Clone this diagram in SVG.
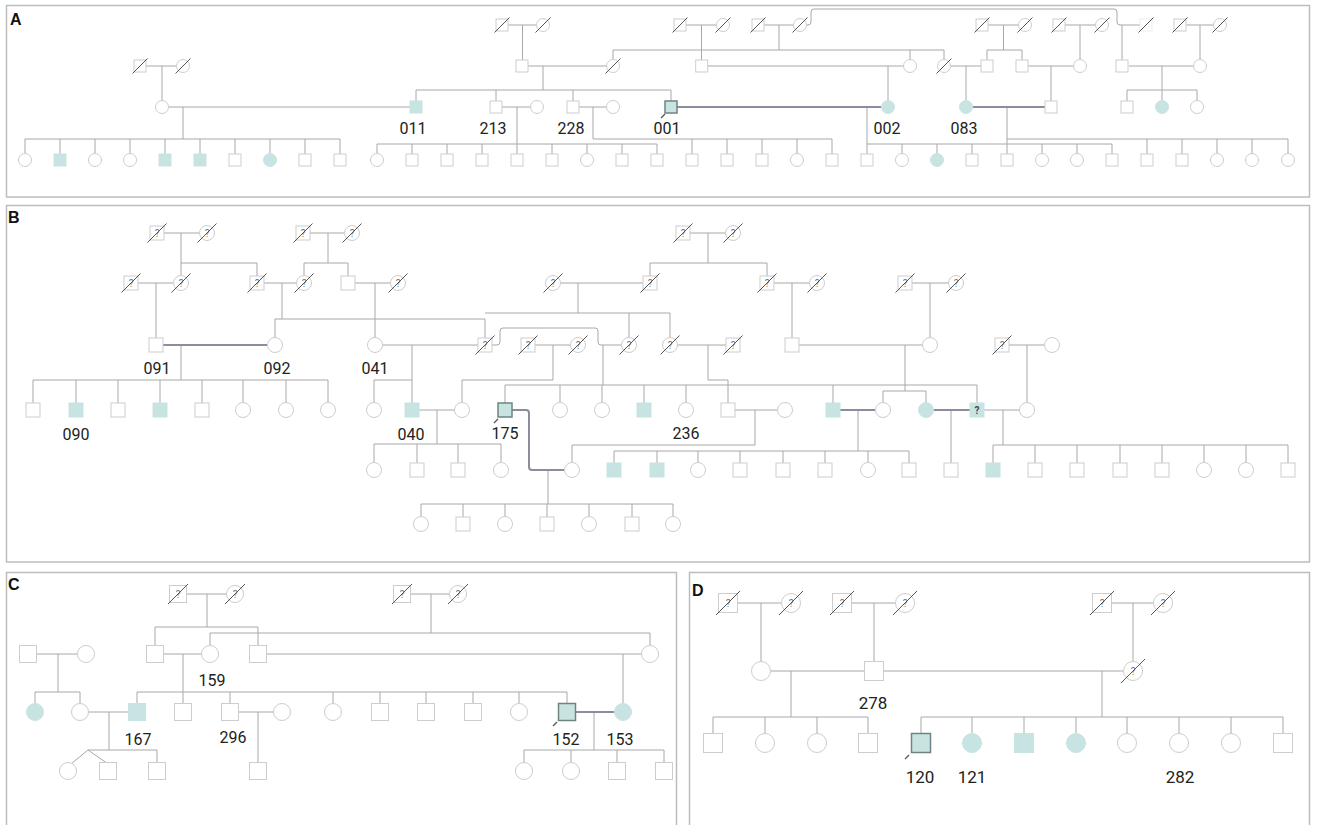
<svg xmlns="http://www.w3.org/2000/svg" xmlns:xlink="http://www.w3.org/1999/xlink" width="1317" height="825" viewBox="0 0 1317 825">
<style>
.u{fill:#fff;stroke:#cdcdcd;stroke-width:1}
.a{fill:#c8e4e2;stroke:#c8e4e2;stroke-width:1}
.p{fill:#c8e4e2;stroke:#6f8482;stroke-width:1.5}
.x{stroke:#555;stroke-width:1;fill:none}
.q{font-family:Roboto,"Liberation Sans",sans-serif;font-size:10px;fill:#777;stroke:none;text-anchor:middle}
.t{font-family:Roboto,"Liberation Sans",sans-serif;font-size:16px;fill:#222;text-anchor:middle}
.L{font-family:"Liberation Sans",Arial,sans-serif;font-weight:bold;font-size:16px;fill:#111}
.ln{stroke:#a8a8a8;stroke-width:1;fill:none}
.th{stroke:#8c8c9e;stroke-width:2;fill:none}
.fr{fill:none;stroke:#bdbdbd;stroke-width:1.5}
.ar{stroke:#555;stroke-width:1.2}
</style>
<defs>
<rect id="sA" x="-6" y="-6" width="12" height="12"/>
<circle id="cA" r="6.5"/>
<line id="xA" x1="-7.5" y1="7.5" x2="7.5" y2="-7.5"/>
<rect id="sB" x="-7" y="-7" width="14" height="14"/>
<circle id="cB" r="7.5"/>
<line id="xB" x1="-9.5" y1="9.5" x2="9.5" y2="-9.5"/>
<rect id="sC" x="-8.5" y="-8.5" width="17" height="17"/>
<circle id="cC" r="8.5"/>
<line id="xC" x1="-10" y1="10" x2="10" y2="-10"/>
<rect id="sD" x="-9.5" y="-9.5" width="19" height="19"/>
<circle id="cD" r="9.5"/>
<line id="xD" x1="-12" y1="12" x2="12" y2="-12"/>
</defs>
<rect width="1317" height="825" fill="#fff"/>
<g id="frames" class="fr">
<rect x="6.5" y="5.5" width="1303" height="191.5"/>
<rect x="6.5" y="205.5" width="1303" height="356.5"/>
<path d="M6.5,830V572.5H676.5V830"/>
<path d="M689.5,830V572.5H1309.5V830"/>
</g>
<g id="panel-letters">
<text class="L" x="10" y="25">A</text>
<text class="L" x="8" y="223">B</text>
<text class="L" x="8" y="590">C</text>
<text class="L" x="692" y="596">D</text>
</g>
<g id="connectors">
<g class="ln">
<path d="M508,25H537M522.5,25V60M686,25H716.5M701.5,25V60M764,25H793.5M779,25V50M988,25H1018.5M1003.5,25V50M987,50H1022M987,50V60M1022,50V60M1065,25H1095.5M1080,25V59.5M1186,25H1213.5M1200,25V59.5"/>
<path d="M806.5,25H808Q811,25 811,22V12Q811,9 814,9H1114Q1117,9 1117,12V22Q1117,25 1120,25H1140M1122,25V60"/>
<path d="M613,50H944M613,50V59.5M910,50V59.5M944,50V59.5"/>
<path d="M146,66H176.5M162,66V100.5M528,66H606.5M543,66V90M416,90H671M416,90V101M496,90V101M573,90V101M671,90V101"/>
<path d="M707.7,66H903.5M888,66V100.5M950.5,66H981M966,66V100.5M1028,66H1073.5M1051,66V101M1129,66H1193.5M1162,66V90M1127,90H1197M1127,90V101M1162,90V100.5M1197,90V100.5"/>
<path d="M168.5,107H410M183,107V139M25,139H340M25,139V154M60,139V154M95,139V154M130,139V154M165,139V154M200,139V154M235,139V154M270,139V154M305,139V154M340,139V154"/>
<path d="M502,107H530.5M517,107V154M377,144H657M377,144V154M412,144V154M447,144V154M482,144V154M552,144V154M587,144V154M622,144V154M657,144V154"/>
<path d="M579,107H606.5M593,107V139M593,139H832M692,139V154M727,139V154M762,139V154M797,139V154M832,139V154"/>
<path d="M867,107V144M867,144H1112M902,144V154M937,144V154M972,144V154M1007,144V154M1042,144V154M1077,144V154M1112,144V154M867,144V154"/>
<path d="M1007,107V144M1007,139H1288M1147,139V154M1182,139V154M1217,139V154M1252,139V154M1288,139V154"/>
<path d="M164,233H199.5M181,233V275.5M181,263H257M257,263V276M310,233H344M328,233V263M304,263H348M304,263V275.5M348,263V276M690,233H725.5M708,233V263M650,263H767M650,263V276M767,263V276"/>
<path d="M138,283H173.5M156,283V338M264,283H296.5M282,283V319M275,319H485M275,319V337.5M485,319V338M355,283H390.5M375,283V337.5"/>
<path d="M560.5,283H643M578,283V313M485,313H670M629,313V337.5M670,313V337.5M774,283H809.5M792,283V338M912,283H948.5M930,283V337.5"/>
<path d="M181,345V380M33,380H328M33,380V403M76,380V403M118,380V403M160,380V403M202,380V403M243,380V403M286,380V403M328,380V403"/>
<path d="M382.5,345H478M412,345V403M374,380H412M374,380V402.5"/>
<path d="M492,345H497Q500,345 500,342V331Q500,328 503,328H595Q598,328 598,331V342Q598,345 601,345H621.5M603,345V385"/>
<path d="M535,345H570.5M553,345V380M462,380H553M462,380V402.5M677.5,345H726M708,345V380H728V403"/>
<path d="M799,345H922.5M905,345V391M883,391H926M883,391V402.5M926,391V402.5M1009,345H1044.5M1027,345V402.5"/>
<path d="M505,385H977M505,385V403M560,385V402.5M602,385V402.5M644,385V403M686,385V402.5M833,385V403M977,385V403"/>
<path d="M419,410H454.5M437,410V444M374,444H501M374,444V462.5M417,444V463M458,444V463M501,444V462.5"/>
<path d="M735,410H777.5M755,410V445H572V462.5M858,410V451M614,451H909M614,451V463M657,451V463M698,451V462.5M740,451V463M783,451V463M825,451V463M868,451V462.5M909,451V463M951,410V463"/>
<path d="M984,410H1019.5M1003,410V445M993,445H1288M993,445V463M1035,445V463M1077,445V463M1120,445V463M1162,445V463M1204,445V462.5M1246,445V462.5M1288,445V463"/>
<path d="M548,470V504M421,504H673M421,504V516.5M463,504V517M505,504V516.5M547,504V517M589,504V516.5M632,504V517M673,504V516.5"/>
<path d="M186.5,594H226.5M207,594V627M155,627H258M155,627V645.5M258,627V645.5M410.5,594H449.5M431,594V633M210,633H650M210,633V645.5M650,633V645.5"/>
<path d="M36.5,654H77.5M58,654V692M35,692H80M35,692V703.5M80,692V703.5M163.5,654H201.5M183,654V703.5M137,692H567M137,692V703.5M230,692V703.5M333,692V703.5M380,692V703.5M426,692V703.5M473,692V703.5M519,692V703.5M567,692V703.5M266.5,654H641.5M623,654V703.5"/>
<path d="M88.5,712H128.5M109,712V750M88,750H157M88,750L71,764M88,750L106,762.5M157,750V762.5M238.5,712H273.5M258,712V762.5M594,712V750M524,750H664M524,750V762.5M571,750V762.5M617,750V762.5M664,750V762.5"/>
<path d="M737.5,603H781.5M761,603V661.5M851.5,603H895.5M874,603V661.5M1111,603H1153.5M1133,603V661.5"/>
<path d="M770.5,671H864.5M791,671V717M713,717H868M713,717V733.5M765,717V733.5M817,717V733.5M868,717V733.5"/>
<path d="M883.5,671H1123.5M1102,671V717M921,717H1283M921,717V733.5M972,717V733.5M1024,717V733.5M1076,717V733.5M1127,717V733.5M1179,717V733.5M1231,717V733.5M1283,717V733.5"/>
</g>
<g class="th">
<path d="M677,107H881.5M972.5,107H1045"/>
<path d="M163,345H267.5M512,410H526Q529,410 529,413V467Q529,470 532,470H564.5M840,410H875.5M933.5,410H970"/>
<path d="M575.5,712H614.5"/>
</g>
<g id="proband-arrows" class="ar">
<line x1="661" y1="118" x2="665" y2="114"/>
<line x1="494" y1="423" x2="498" y2="419"/>
<line x1="553" y1="726" x2="557" y2="722"/>
<line x1="905" y1="759" x2="909" y2="755"/>
</g>
</g>
<g id="panelA-nodes">
<g id="A-d1" class="u"><use href="#sA" x="502" y="25"/><use href="#xA" class="x" x="502" y="25"/></g>
<g id="A-d2" class="u"><use href="#cA" x="543" y="25"/><use href="#xA" class="x" x="543" y="25"/></g>
<g id="A-d3" class="u"><use href="#sA" x="680" y="25"/><use href="#xA" class="x" x="680" y="25"/></g>
<g id="A-d4" class="u"><use href="#cA" x="723" y="25"/><use href="#xA" class="x" x="723" y="25"/></g>
<g id="A-d5" class="u"><use href="#sA" x="758" y="25"/><use href="#xA" class="x" x="758" y="25"/></g>
<g id="A-d6" class="u"><use href="#cA" x="800" y="25"/><use href="#xA" class="x" x="800" y="25"/></g>
<g id="A-d7" class="u"><use href="#sA" x="982" y="25"/><use href="#xA" class="x" x="982" y="25"/></g>
<g id="A-d8" class="u"><use href="#cA" x="1025" y="25"/><use href="#xA" class="x" x="1025" y="25"/></g>
<g id="A-d9" class="u"><use href="#sA" x="1059" y="25"/><use href="#xA" class="x" x="1059" y="25"/></g>
<g id="A-d10" class="u"><use href="#cA" x="1102" y="25"/><use href="#xA" class="x" x="1102" y="25"/></g>
<g id="A-d11" class="u" style="stroke:#eeeeee"><use href="#sA" x="1146" y="25"/><use href="#xA" class="x" x="1146" y="25"/></g>
<g id="A-d12" class="u"><use href="#sA" x="1180" y="25"/><use href="#xA" class="x" x="1180" y="25"/></g>
<g id="A-d13" class="u"><use href="#cA" x="1220" y="25"/><use href="#xA" class="x" x="1220" y="25"/></g>
<g id="A-r1a" class="u"><use href="#sA" x="140" y="66"/><use href="#xA" class="x" x="140" y="66"/></g>
<g id="A-r1b" class="u"><use href="#cA" x="183" y="66"/><use href="#xA" class="x" x="183" y="66"/></g>
<g id="A-r1c" class="u"><use href="#sA" x="522" y="66"/></g>
<g id="A-r1d" class="u"><use href="#cA" x="613" y="66"/><use href="#xA" class="x" x="613" y="66"/></g>
<g id="A-r1e" class="u"><use href="#sA" x="701.7" y="66"/></g>
<g id="A-r1f" class="u"><use href="#cA" x="910" y="66"/></g>
<g id="A-r1g" class="u"><use href="#cA" x="944" y="66"/><use href="#xA" class="x" x="944" y="66"/></g>
<g id="A-r1h" class="u"><use href="#sA" x="987" y="66"/></g>
<g id="A-r1i" class="u"><use href="#sA" x="1022" y="66"/></g>
<g id="A-r1j" class="u"><use href="#cA" x="1080" y="66"/></g>
<g id="A-r1k" class="u"><use href="#sA" x="1122" y="66"/></g>
<g id="A-r1l" class="u"><use href="#cA" x="1200" y="66"/></g>
<g id="A-r2a" class="u"><use href="#cA" x="162" y="107"/></g>
<g id="A-011" class="a"><use href="#sA" x="416" y="107"/><text class="t" x="413" y="134" style="stroke:none">011</text></g>
<g id="A-213" class="u"><use href="#sA" x="496" y="107"/><text class="t" x="493" y="134" style="stroke:none">213</text></g>
<g id="A-r2b" class="u"><use href="#cA" x="537" y="107"/></g>
<g id="A-228" class="u"><use href="#sA" x="573" y="107"/><text class="t" x="571" y="134" style="stroke:none">228</text></g>
<g id="A-r2c" class="u"><use href="#cA" x="613" y="107"/></g>
<g id="A-001" class="p"><use href="#sA" x="671" y="107"/><text class="t" x="667" y="134" style="stroke:none">001</text></g>
<g id="A-002" class="a"><use href="#cA" x="888" y="107"/><text class="t" x="887" y="134" style="stroke:none">002</text></g>
<g id="A-083" class="a"><use href="#cA" x="966" y="107"/><text class="t" x="964" y="134" style="stroke:none">083</text></g>
<g id="A-r2d" class="u"><use href="#sA" x="1051" y="107"/></g>
<g id="A-r2e" class="u"><use href="#sA" x="1127" y="107"/></g>
<g id="A-r2f" class="a"><use href="#cA" x="1162" y="107"/></g>
<g id="A-r2g" class="u"><use href="#cA" x="1197" y="107"/></g>
<g id="A-r3-1" class="u"><use href="#cA" x="25" y="160"/></g>
<g id="A-r3-2" class="a"><use href="#sA" x="60" y="160"/></g>
<g id="A-r3-3" class="u"><use href="#cA" x="95" y="160"/></g>
<g id="A-r3-4" class="u"><use href="#cA" x="130" y="160"/></g>
<g id="A-r3-5" class="a"><use href="#sA" x="165" y="160"/></g>
<g id="A-r3-6" class="a"><use href="#sA" x="200" y="160"/></g>
<g id="A-r3-7" class="u"><use href="#sA" x="235" y="160"/></g>
<g id="A-r3-8" class="a"><use href="#cA" x="270" y="160"/></g>
<g id="A-r3-9" class="u"><use href="#sA" x="305" y="160"/></g>
<g id="A-r3-10" class="u"><use href="#sA" x="340" y="160"/></g>
<g id="A-r3-11" class="u"><use href="#cA" x="377" y="160"/></g>
<g id="A-r3-12" class="u"><use href="#sA" x="412" y="160"/></g>
<g id="A-r3-13" class="u"><use href="#sA" x="447" y="160"/></g>
<g id="A-r3-14" class="u"><use href="#sA" x="482" y="160"/></g>
<g id="A-r3-15" class="u"><use href="#sA" x="517" y="160"/></g>
<g id="A-r3-16" class="u"><use href="#sA" x="552" y="160"/></g>
<g id="A-r3-17" class="u"><use href="#cA" x="587" y="160"/></g>
<g id="A-r3-18" class="u"><use href="#sA" x="622" y="160"/></g>
<g id="A-r3-19" class="u"><use href="#sA" x="657" y="160"/></g>
<g id="A-r3-20" class="u"><use href="#sA" x="692" y="160"/></g>
<g id="A-r3-21" class="u"><use href="#sA" x="727" y="160"/></g>
<g id="A-r3-22" class="u"><use href="#sA" x="762" y="160"/></g>
<g id="A-r3-23" class="u"><use href="#cA" x="797" y="160"/></g>
<g id="A-r3-24" class="u"><use href="#sA" x="832" y="160"/></g>
<g id="A-r3-25" class="u"><use href="#sA" x="867" y="160"/></g>
<g id="A-r3-26" class="u"><use href="#cA" x="902" y="160"/></g>
<g id="A-r3-27" class="a"><use href="#cA" x="937" y="160"/></g>
<g id="A-r3-28" class="u"><use href="#sA" x="972" y="160"/></g>
<g id="A-r3-29" class="u"><use href="#sA" x="1007" y="160"/></g>
<g id="A-r3-30" class="u"><use href="#cA" x="1042" y="160"/></g>
<g id="A-r3-31" class="u"><use href="#cA" x="1077" y="160"/></g>
<g id="A-r3-32" class="u"><use href="#sA" x="1112" y="160"/></g>
<g id="A-r3-33" class="u"><use href="#sA" x="1147" y="160"/></g>
<g id="A-r3-34" class="u"><use href="#sA" x="1182" y="160"/></g>
<g id="A-r3-35" class="u"><use href="#cA" x="1217" y="160"/></g>
<g id="A-r3-36" class="u"><use href="#cA" x="1252" y="160"/></g>
<g id="A-r3-37" class="u"><use href="#cA" x="1288" y="160"/></g>
</g>
<g id="panelB-nodes">
<g id="B-d1" class="u"><use href="#sB" x="157" y="233"/><text class="q" x="157" y="236.5">?</text><use href="#xB" class="x" x="157" y="233"/></g>
<g id="B-d2" class="u"><use href="#cB" x="207" y="233"/><text class="q" x="207" y="236.5">?</text><use href="#xB" class="x" x="207" y="233"/></g>
<g id="B-d3" class="u"><use href="#sB" x="303" y="233"/><text class="q" x="303" y="236.5">?</text><use href="#xB" class="x" x="303" y="233"/></g>
<g id="B-d4" class="u"><use href="#cB" x="352" y="233"/><text class="q" x="352" y="236.5">?</text><use href="#xB" class="x" x="352" y="233"/></g>
<g id="B-d5" class="u"><use href="#sB" x="683" y="233"/><text class="q" x="683" y="236.5">?</text><use href="#xB" class="x" x="683" y="233"/></g>
<g id="B-d6" class="u"><use href="#cB" x="733" y="233"/><text class="q" x="733" y="236.5">?</text><use href="#xB" class="x" x="733" y="233"/></g>
<g id="B-d7" class="u"><use href="#sB" x="131" y="283"/><text class="q" x="131" y="286.5">?</text><use href="#xB" class="x" x="131" y="283"/></g>
<g id="B-d8" class="u"><use href="#cB" x="181" y="283"/><text class="q" x="181" y="286.5">?</text><use href="#xB" class="x" x="181" y="283"/></g>
<g id="B-d9" class="u"><use href="#sB" x="257" y="283"/><text class="q" x="257" y="286.5">?</text><use href="#xB" class="x" x="257" y="283"/></g>
<g id="B-d10" class="u"><use href="#cB" x="304" y="283"/><text class="q" x="304" y="286.5">?</text><use href="#xB" class="x" x="304" y="283"/></g>
<g id="B-r1a" class="u"><use href="#sB" x="348" y="283"/></g>
<g id="B-d11" class="u"><use href="#cB" x="398" y="283"/><text class="q" x="398" y="286.5">?</text><use href="#xB" class="x" x="398" y="283"/></g>
<g id="B-d12" class="u"><use href="#cB" x="553" y="283"/><text class="q" x="553" y="286.5">?</text><use href="#xB" class="x" x="553" y="283"/></g>
<g id="B-d13" class="u"><use href="#sB" x="650" y="283"/><text class="q" x="650" y="286.5">?</text><use href="#xB" class="x" x="650" y="283"/></g>
<g id="B-d14" class="u"><use href="#sB" x="767" y="283"/><text class="q" x="767" y="286.5">?</text><use href="#xB" class="x" x="767" y="283"/></g>
<g id="B-d15" class="u"><use href="#cB" x="817" y="283"/><text class="q" x="817" y="286.5">?</text><use href="#xB" class="x" x="817" y="283"/></g>
<g id="B-d16" class="u"><use href="#sB" x="905" y="283"/><text class="q" x="905" y="286.5">?</text><use href="#xB" class="x" x="905" y="283"/></g>
<g id="B-d17" class="u"><use href="#cB" x="956" y="283"/><text class="q" x="956" y="286.5">?</text><use href="#xB" class="x" x="956" y="283"/></g>
<g id="B-091" class="u"><use href="#sB" x="156" y="345"/><text class="t" x="157" y="374" style="stroke:none">091</text></g>
<g id="B-092" class="u"><use href="#cB" x="275" y="345"/><text class="t" x="277" y="374" style="stroke:none">092</text></g>
<g id="B-041" class="u"><use href="#cB" x="375" y="345"/><text class="t" x="375" y="374" style="stroke:none">041</text></g>
<g id="B-d18" class="u"><use href="#sB" x="485" y="345"/><text class="q" x="485" y="348.5">?</text><use href="#xB" class="x" x="485" y="345"/></g>
<g id="B-d19" class="u"><use href="#sB" x="528" y="345"/><text class="q" x="528" y="348.5">?</text><use href="#xB" class="x" x="528" y="345"/></g>
<g id="B-d20" class="u"><use href="#cB" x="578" y="345"/><text class="q" x="578" y="348.5">?</text><use href="#xB" class="x" x="578" y="345"/></g>
<g id="B-d21" class="u"><use href="#cB" x="629" y="345"/><text class="q" x="629" y="348.5">?</text><use href="#xB" class="x" x="629" y="345"/></g>
<g id="B-d22" class="u"><use href="#cB" x="670" y="345"/><text class="q" x="670" y="348.5">?</text><use href="#xB" class="x" x="670" y="345"/></g>
<g id="B-d23" class="u"><use href="#sB" x="733" y="345"/><text class="q" x="733" y="348.5">?</text><use href="#xB" class="x" x="733" y="345"/></g>
<g id="B-r2a" class="u"><use href="#sB" x="792" y="345"/></g>
<g id="B-r2b" class="u"><use href="#cB" x="930" y="345"/></g>
<g id="B-d24" class="u"><use href="#sB" x="1002" y="345"/><text class="q" x="1002" y="348.5">?</text><use href="#xB" class="x" x="1002" y="345"/></g>
<g id="B-r2c" class="u"><use href="#cB" x="1052" y="345"/></g>
<g id="B-r3-1" class="u"><use href="#sB" x="33" y="410"/></g>
<g id="B-090" class="a"><use href="#sB" x="76" y="410"/><text class="t" x="76" y="440" style="stroke:none">090</text></g>
<g id="B-r3-3" class="u"><use href="#sB" x="118" y="410"/></g>
<g id="B-r3-4" class="a"><use href="#sB" x="160" y="410"/></g>
<g id="B-r3-5" class="u"><use href="#sB" x="202" y="410"/></g>
<g id="B-r3-6" class="u"><use href="#cB" x="243" y="410"/></g>
<g id="B-r3-7" class="u"><use href="#cB" x="286" y="410"/></g>
<g id="B-r3-8" class="u"><use href="#cB" x="328" y="410"/></g>
<g id="B-r3-9" class="u"><use href="#cB" x="374" y="410"/></g>
<g id="B-040" class="a"><use href="#sB" x="412" y="410"/><text class="t" x="411" y="440" style="stroke:none">040</text></g>
<g id="B-r3-11" class="u"><use href="#cB" x="462" y="410"/></g>
<g id="B-175" class="p"><use href="#sB" x="505" y="410"/><text class="t" x="505" y="439" style="stroke:none">175</text></g>
<g id="B-r3-13" class="u"><use href="#cB" x="560" y="410"/></g>
<g id="B-r3-14" class="u"><use href="#cB" x="602" y="410"/></g>
<g id="B-r3-15" class="a"><use href="#sB" x="644" y="410"/></g>
<g id="B-r3-16" class="u"><use href="#cB" x="686" y="410"/></g>
<g id="B-236" class="u"><use href="#sB" x="728" y="410"/><text class="t" x="686" y="439" style="stroke:none">236</text></g>
<g id="B-r3-18" class="u"><use href="#cB" x="785" y="410"/></g>
<g id="B-r3-19" class="a"><use href="#sB" x="833" y="410"/></g>
<g id="B-r3-20" class="u"><use href="#cB" x="883" y="410"/></g>
<g id="B-r3-21" class="a"><use href="#cB" x="926" y="410"/></g>
<g id="B-r3-22" class="a"><use href="#sB" x="977" y="410"/><text class="q" x="977" y="413.5" style="fill:#444;font-weight:bold">?</text></g>
<g id="B-r3-23" class="u"><use href="#cB" x="1027" y="410"/></g>
<g id="B-r4-1" class="u"><use href="#cB" x="374" y="470"/></g>
<g id="B-r4-2" class="u"><use href="#sB" x="417" y="470"/></g>
<g id="B-r4-3" class="u"><use href="#sB" x="458" y="470"/></g>
<g id="B-r4-4" class="u"><use href="#cB" x="501" y="470"/></g>
<g id="B-r4-5" class="u"><use href="#cB" x="572" y="470"/></g>
<g id="B-r4-6" class="a"><use href="#sB" x="614" y="470"/></g>
<g id="B-r4-7" class="a"><use href="#sB" x="657" y="470"/></g>
<g id="B-r4-8" class="u"><use href="#cB" x="698" y="470"/></g>
<g id="B-r4-9" class="u"><use href="#sB" x="740" y="470"/></g>
<g id="B-r4-10" class="u"><use href="#sB" x="783" y="470"/></g>
<g id="B-r4-11" class="u"><use href="#sB" x="825" y="470"/></g>
<g id="B-r4-12" class="u"><use href="#cB" x="868" y="470"/></g>
<g id="B-r4-13" class="u"><use href="#sB" x="909" y="470"/></g>
<g id="B-r4-14" class="u"><use href="#sB" x="951" y="470"/></g>
<g id="B-r4-15" class="a"><use href="#sB" x="993" y="470"/></g>
<g id="B-r4-16" class="u"><use href="#sB" x="1035" y="470"/></g>
<g id="B-r4-17" class="u"><use href="#sB" x="1077" y="470"/></g>
<g id="B-r4-18" class="u"><use href="#sB" x="1120" y="470"/></g>
<g id="B-r4-19" class="u"><use href="#sB" x="1162" y="470"/></g>
<g id="B-r4-20" class="u"><use href="#cB" x="1204" y="470"/></g>
<g id="B-r4-21" class="u"><use href="#cB" x="1246" y="470"/></g>
<g id="B-r4-22" class="u"><use href="#sB" x="1288" y="470"/></g>
<g id="B-r5-1" class="u"><use href="#cB" x="421" y="524"/></g>
<g id="B-r5-2" class="u"><use href="#sB" x="463" y="524"/></g>
<g id="B-r5-3" class="u"><use href="#cB" x="505" y="524"/></g>
<g id="B-r5-4" class="u"><use href="#sB" x="547" y="524"/></g>
<g id="B-r5-5" class="u"><use href="#cB" x="589" y="524"/></g>
<g id="B-r5-6" class="u"><use href="#sB" x="632" y="524"/></g>
<g id="B-r5-7" class="u"><use href="#cB" x="673" y="524"/></g>
</g>
<g id="panelC-nodes">
<g id="C-d1" class="u"><use href="#sC" x="178" y="594"/><text class="q" x="178" y="597.5">?</text><use href="#xC" class="x" x="178" y="594"/></g>
<g id="C-d2" class="u"><use href="#cC" x="235" y="594"/><text class="q" x="235" y="597.5">?</text><use href="#xC" class="x" x="235" y="594"/></g>
<g id="C-d3" class="u"><use href="#sC" x="402" y="594"/><text class="q" x="402" y="597.5">?</text><use href="#xC" class="x" x="402" y="594"/></g>
<g id="C-d4" class="u"><use href="#cC" x="458" y="594"/><text class="q" x="458" y="597.5">?</text><use href="#xC" class="x" x="458" y="594"/></g>
<g id="C-r1-1" class="u"><use href="#sC" x="28" y="654"/></g>
<g id="C-r1-2" class="u"><use href="#cC" x="86" y="654"/></g>
<g id="C-r1-3" class="u"><use href="#sC" x="155" y="654"/></g>
<g id="C-159" class="u"><use href="#cC" x="210" y="654"/><text class="t" x="212" y="686" style="stroke:none">159</text></g>
<g id="C-r1-5" class="u"><use href="#sC" x="258" y="654"/></g>
<g id="C-r1-6" class="u"><use href="#cC" x="650" y="654"/></g>
<g id="C-r2-1" class="a"><use href="#cC" x="35" y="712"/></g>
<g id="C-r2-2" class="u"><use href="#cC" x="80" y="712"/></g>
<g id="C-167" class="a"><use href="#sC" x="137" y="712"/><text class="t" x="138" y="745" style="stroke:none">167</text></g>
<g id="C-r2-4" class="u"><use href="#sC" x="183" y="712"/></g>
<g id="C-296" class="u"><use href="#sC" x="230" y="712"/><text class="t" x="233" y="743" style="stroke:none">296</text></g>
<g id="C-r2-6" class="u"><use href="#cC" x="282" y="712"/></g>
<g id="C-r2-7" class="u"><use href="#cC" x="333" y="712"/></g>
<g id="C-r2-8" class="u"><use href="#sC" x="380" y="712"/></g>
<g id="C-r2-9" class="u"><use href="#sC" x="426" y="712"/></g>
<g id="C-r2-10" class="u"><use href="#sC" x="473" y="712"/></g>
<g id="C-r2-11" class="u"><use href="#cC" x="519" y="712"/></g>
<g id="C-152" class="p"><use href="#sC" x="567" y="712"/><text class="t" x="566" y="745" style="stroke:none">152</text></g>
<g id="C-153" class="a"><use href="#cC" x="623" y="712"/><text class="t" x="620" y="745" style="stroke:none">153</text></g>
<g id="C-r3-1" class="u"><use href="#cC" x="68" y="771"/></g>
<g id="C-r3-2" class="u"><use href="#sC" x="108" y="771"/></g>
<g id="C-r3-3" class="u"><use href="#sC" x="157" y="771"/></g>
<g id="C-r3-4" class="u"><use href="#sC" x="258" y="771"/></g>
<g id="C-r3-5" class="u"><use href="#cC" x="524" y="771"/></g>
<g id="C-r3-6" class="u"><use href="#cC" x="571" y="771"/></g>
<g id="C-r3-7" class="u"><use href="#sC" x="617" y="771"/></g>
<g id="C-r3-8" class="u"><use href="#sC" x="664" y="771"/></g>
</g>
<g id="panelD-nodes">
<g id="D-d1" class="u"><use href="#sD" x="728" y="603"/><text class="q" x="728" y="606.5">?</text><use href="#xD" class="x" x="728" y="603"/></g>
<g id="D-d2" class="u"><use href="#cD" x="791" y="603"/><text class="q" x="791" y="606.5">?</text><use href="#xD" class="x" x="791" y="603"/></g>
<g id="D-d3" class="u"><use href="#sD" x="842" y="603"/><text class="q" x="842" y="606.5">?</text><use href="#xD" class="x" x="842" y="603"/></g>
<g id="D-d4" class="u"><use href="#cD" x="905" y="603"/><text class="q" x="905" y="606.5">?</text><use href="#xD" class="x" x="905" y="603"/></g>
<g id="D-d5" class="u"><use href="#sD" x="1102" y="603"/><text class="q" x="1102" y="606.5">?</text><use href="#xD" class="x" x="1102" y="603"/></g>
<g id="D-d6" class="u"><use href="#cD" x="1163" y="603"/><text class="q" x="1163" y="606.5">?</text><use href="#xD" class="x" x="1163" y="603"/></g>
<g id="D-r1-1" class="u"><use href="#cD" x="761" y="671"/></g>
<g id="D-278" class="u"><use href="#sD" x="874" y="671"/><text class="t" x="873" y="709" style="stroke:none;font-size:17px">278</text></g>
<g id="D-d7" class="u"><use href="#cD" x="1133" y="671"/><text class="q" x="1133" y="674.5">?</text><use href="#xD" class="x" x="1133" y="671"/></g>
<g id="D-r2-1" class="u"><use href="#sD" x="713" y="743"/></g>
<g id="D-r2-2" class="u"><use href="#cD" x="765" y="743"/></g>
<g id="D-r2-3" class="u"><use href="#cD" x="817" y="743"/></g>
<g id="D-r2-4" class="u"><use href="#sD" x="868" y="743"/></g>
<g id="D-120" class="p"><use href="#sD" x="921" y="743"/><text class="t" x="920" y="783" style="stroke:none;font-size:17px">120</text></g>
<g id="D-121" class="a"><use href="#cD" x="972" y="743"/><text class="t" x="972" y="783" style="stroke:none;font-size:17px">121</text></g>
<g id="D-r2-7" class="a"><use href="#sD" x="1024" y="743"/></g>
<g id="D-r2-8" class="a"><use href="#cD" x="1076" y="743"/></g>
<g id="D-r2-9" class="u"><use href="#cD" x="1127" y="743"/></g>
<g id="D-282" class="u"><use href="#cD" x="1179" y="743"/><text class="t" x="1180" y="783" style="stroke:none;font-size:17px">282</text></g>
<g id="D-r2-11" class="u"><use href="#cD" x="1231" y="743"/></g>
<g id="D-r2-12" class="u"><use href="#sD" x="1283" y="743"/></g>
</g>
</svg>
